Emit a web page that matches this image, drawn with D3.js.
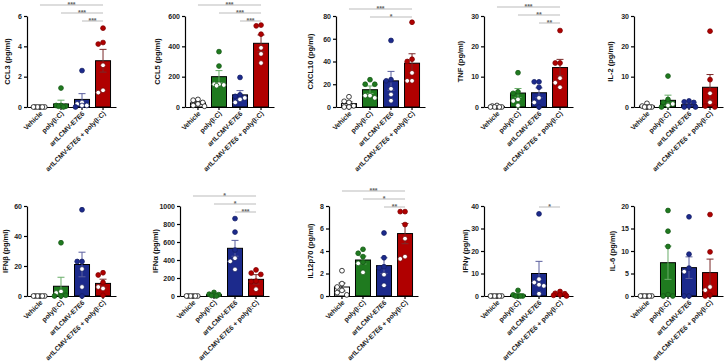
<!DOCTYPE html>
<html>
<head>
<meta charset="utf-8">
<script src="https://cdn.jsdelivr.net/npm/d3@7"></script>
<style>
  body { margin: 0; background: #fff; }
  text { font-family: "Liberation Sans", Arial, sans-serif; font-weight: bold; }
</style>
</head>
<body>
<script>
// groups (x categories)
var groups = ["Vehicle", "poly(I:C)", "artLCMV-E7E6", "artLCMV-E7E6 + poly(I:C)"];
var groupColors = ["#ffffff", "#1f7a1f", "#1c2a8c", "#b00000"];
var errColors = ["#222222", "#6aae6a", "#5a5f9e", "#7a2a2a"];

// CCL3
var ccl3Points = [[0, 0, 0, 0, 0, 0], [1.25, 0.1, 0.05, 0.1, 0, 0.05], [2.4, 0.3, 0.2, 0.1, 0.1, 0], [5.2, 4.25, 4.15, 2.75, 1.1, 0.95]];
var ccl3Mean = [0, 0.2, 0.5, 3.05];
var ccl3Sem = [0, 0.25, 0.38, 0.75];
var ccl3Ticks = [0, 2, 4, 6];
var ccl3Stars = [[0, 3, "***"], [1, 3, "***"], [2, 3, "***"]];

// CCL5
var ccl5Points = [[50, 45, 30, 20, 10, 5], [365, 270, 150, 150, 145, 140], [195, 80, 70, 60, 50, 30], [540, 535, 480, 390, 350, 290]];
var ccl5Mean = [27, 200, 80, 420];
var ccl5Sem = [8, 40, 28, 55];
var ccl5Ticks = [0, 200, 400, 600];
var ccl5Stars = [[0, 3, "***"], [1, 3, "***"], [2, 3, "***"]];

// CXCL10
var cxcl10Points = [[9, 5, 4, 1, 0, 0], [24, 20, 20, 10, 10, 8], [58.5, 24, 23, 16, 11, 5.5], [74.5, 42, 40, 30, 23, 23]];
var cxcl10Mean = [3, 15.2, 23, 38.5];
var cxcl10Sem = [1.5, 3.3, 8.3, 8.3];
var cxcl10Ticks = [0, 20, 40, 60, 80];
var cxcl10Stars = [[0, 3, "***"], [1, 3, "*"]];

// TNF
var tnfPoints = [[0.5, 0.3, 0, 0, 0, 0], [11.3, 5, 4.5, 2.5, 2, 0.5], [8.3, 8.3, 6.5, 3, 1.5, 0], [25.2, 14.5, 14.5, 9.5, 8, 6.5]];
var tnfMean = [0.1, 4.6, 4.7, 13];
var tnfSem = [0.1, 1.5, 1.6, 2.7];
var tnfTicks = [0, 10, 20, 30];
var tnfStars = [[0, 3, "***"], [1, 3, "**"], [2, 3, "**"]];

// IL-2
var il2Points = [[1.2, 0.3, 0, 0, 0, 0], [10.2, 2.5, 1.5, 1, 0.5, 0], [2, 1.7, 1.5, 0.3, 0, 0], [25, 9, 4.5, 1.5, 0.3, 0]];
var il2Mean = [0.3, 2.2, 0.75, 6.5];
var il2Sem = [0.2, 1.7, 0.4, 4.2];
var il2Ticks = [0, 10, 20, 30];
var il2Stars = [];

// IFNb
var ifnbPoints = [[0, 0, 0, 0, 0, 0], [35.5, 3, 2, 0.5, 0, 0], [57.5, 23, 23, 18, 6, 0], [15.5, 14, 9, 6, 5, 0.5]];
var ifnbMean = [0, 6.5, 21, 8.4];
var ifnbSem = [0, 6, 8.2, 2.8];
var ifnbTicks = [0, 20, 40, 60];
var ifnbStars = [];

// IFNa
var ifnaPoints = [[0, 0, 0, 0, 0, 0], [40, 20, 15, 10, 5, 0], [860, 710, 510, 420, 385, 295], [290, 255, 240, 165, 160, 75]];
var ifnaMean = [0, 15, 530, 185];
var ifnaSem = [0, 6, 88, 52];
var ifnaTicks = [0, 200, 400, 600, 800, 1000];
var ifnaStars = [[0, 3, "*"], [1, 3, "*"], [2, 3, "***"]];

// IL12p70
var il12Points = [[2.25, 1.1, 0.8, 0.5, 0.3, 0.1], [4.15, 3.8, 3.5, 3.0, 2.9, 2.1], [5.6, 3.4, 2.6, 2.5, 1.9, 0.95], [7.5, 7.5, 6.35, 5.1, 3.5, 3.3]];
var il12Mean = [0.8, 3.2, 2.7, 5.55];
var il12Sem = [0.35, 0.35, 0.7, 0.9];
var il12Ticks = [0, 2, 4, 6, 8];
var il12Stars = [[0, 3, "***"], [1, 3, "*"], [2, 3, "**"]];

// IFNg
var ifngPoints = [[0, 0, 0, 0, 0, 0], [2.5, 0.5, 0, 0, 0, 0], [36.5, 7.5, 6, 5, 4.5, 1], [2, 1.2, 1, 0.5, 0.3, 0]];
var ifngMean = [0, 0.4, 10, 0.9];
var ifngSem = [0, 0.4, 5.4, 0.3];
var ifngTicks = [0, 10, 20, 30, 40];
var ifngStars = [[2, 3, "*"]];

// IL-6
var il6Points = [[0, 0, 0, 0, 0, 0], [19, 14.4, 11, 0.3, 0, 0], [17.6, 9.3, 6.2, 5.4, 0, 0], [18.1, 9.8, 2, 1.3, 0.2, 0]];
var il6Mean = [0, 7.4, 6.3, 5.2];
var il6Sem = [0, 3.7, 2.4, 3];
var il6Ticks = [0, 5, 10, 15, 20];
var il6Stars = [];

var panels = [
    {title: "CCL3 (pg/ml)", points: ccl3Points, mean: ccl3Mean, sem: ccl3Sem, ticks: ccl3Ticks, stars: ccl3Stars},
    {title: "CCL5 (pg/ml)", points: ccl5Points, mean: ccl5Mean, sem: ccl5Sem, ticks: ccl5Ticks, stars: ccl5Stars},
    {title: "CXCL10 (pg/ml)", points: cxcl10Points, mean: cxcl10Mean, sem: cxcl10Sem, ticks: cxcl10Ticks, stars: cxcl10Stars},
    {title: "TNF (pg/ml)", points: tnfPoints, mean: tnfMean, sem: tnfSem, ticks: tnfTicks, stars: tnfStars},
    {title: "IL-2 (pg/ml)", points: il2Points, mean: il2Mean, sem: il2Sem, ticks: il2Ticks, stars: il2Stars},
    {title: "IFNβ (pg/ml)", points: ifnbPoints, mean: ifnbMean, sem: ifnbSem, ticks: ifnbTicks, stars: ifnbStars},
    {title: "IFNα (pg/ml)", points: ifnaPoints, mean: ifnaMean, sem: ifnaSem, ticks: ifnaTicks, stars: ifnaStars},
    {title: "IL12p70 (pg/ml)", points: il12Points, mean: il12Mean, sem: il12Sem, ticks: il12Ticks, stars: il12Stars},
    {title: "IFNγ (pg/ml)", points: ifngPoints, mean: ifngMean, sem: ifngSem, ticks: ifngTicks, stars: ifngStars},
    {title: "IL-6 (pg/ml)", points: il6Points, mean: il6Mean, sem: il6Sem, ticks: il6Ticks, stars: il6Stars}
];

// panel placement (y axis x position, row, title offset, first bracket y)
var layout = [
    {x: 27, row: 0, titleDx: -20, br: 5},
    {x: 185, row: 0, titleDx: -28, br: 5},
    {x: 336, row: 0, titleDx: -26, br: 9},
    {x: 484, row: 0, titleDx: -24, br: 7},
    {x: 634, row: 0, titleDx: -24, br: 0},
    {x: 27, row: 1, titleDx: -22, br: 0},
    {x: 180, row: 1, titleDx: -25, br: 196},
    {x: 329, row: 1, titleDx: -19, br: 191},
    {x: 484, row: 1, titleDx: -19, br: 207},
    {x: 634, row: 1, titleDx: -22, br: 0}
];
var rows = [{top: 16, bottom: 107}, {top: 206, bottom: 296}];
var plotW = 89, r = 2.4;

var svg = d3.select("body").append("svg")
    .attr("width", 725)
    .attr("height", 363);

panels.forEach(function(p, i) {
    var lay = layout[i];
    var row = rows[lay.row];
    var g = svg.append("g").attr("transform", "translate(" + lay.x + ",0)");

    var xScale = d3.scaleBand()
        .domain(groups)
        .range([0, plotW])
        .paddingInner(0.286)
        .paddingOuter(0.26);

    var yScale = d3.scaleLinear()
        .domain([0, d3.max(p.ticks)])
        .range([row.bottom, row.top]);

    var bw = xScale.bandwidth();

    // bars
    g.selectAll("rect.bar")
        .data(groups)
        .enter()
        .append("rect")
        .attr("class", "bar")
        .attr("x", function(d) { return xScale(d); })
        .attr("y", function(d, j) { return yScale(p.mean[j]); })
        .attr("width", bw)
        .attr("height", function(d, j) { return yScale(0) - yScale(p.mean[j]); })
        .attr("fill", function(d, j) { return groupColors[j]; })
        .attr("stroke", "#000")
        .attr("stroke-width", 1);

    // error bars (mean +/- SEM)
    groups.forEach(function(gr, j) {
        if (p.sem[j] <= 0) return;
        var cx = xScale(gr) + bw / 2;
        var y1 = yScale(Math.max(0, p.mean[j] - p.sem[j]));
        var y2 = yScale(p.mean[j] + p.sem[j]);
        var eg = g.append("g").attr("stroke", errColors[j]).attr("stroke-width", 1);
        eg.append("line").attr("x1", cx).attr("x2", cx).attr("y1", y1).attr("y2", y2);
        eg.append("line").attr("x1", cx - 3.5).attr("x2", cx + 3.5).attr("y1", y2).attr("y2", y2);
        eg.append("line").attr("x1", cx - 3.5).attr("x2", cx + 3.5).attr("y1", y1).attr("y2", y1);
    });

    // axes
    var yAxis = d3.axisLeft(yScale).tickValues(p.ticks).tickSize(3).tickSizeOuter(0).tickPadding(2)
        .tickFormat(d3.format("d"));
    var xAxis = d3.axisBottom(xScale).tickSize(3).tickSizeOuter(0).tickFormat("");

    var ya = g.append("g").call(yAxis);
    ya.selectAll("text").attr("font-size", 7).attr("fill", "#222");
    ya.selectAll("line, path").attr("stroke", "#000").attr("stroke-width", 1.2);

    var xa = g.append("g").attr("transform", "translate(0," + row.bottom + ")").call(xAxis);
    xa.selectAll("line, path").attr("stroke", "#000").attr("stroke-width", 1.2);

    // rotated group labels
    g.selectAll("text.xlab")
        .data(groups)
        .enter()
        .append("text")
        .attr("class", "xlab")
        .attr("transform", function(d) {
            return "translate(" + (xScale(d) + bw / 2 + 3) + "," + (row.bottom + 7) + ") rotate(-45)";
        })
        .attr("text-anchor", "end")
        .attr("font-size", 6.8)
        .attr("fill", "#222")
        .text(function(d) { return d; });

    // y title
    g.append("text")
        .attr("transform", "translate(" + (lay.titleDx + 3) + "," + ((row.top + row.bottom) / 2) + ") rotate(-90)")
        .attr("text-anchor", "middle")
        .attr("font-size", 7.5)
        .attr("fill", "#111")
        .text(p.title);

    // points: simple column scatter
    groups.forEach(function(gr, j) {
        var cx = xScale(gr) + bw / 2;
        var vals = p.points[j].slice().sort(function(a, b) { return b - a; });
        var placed = [];
        var cands = [0, -4.8, 4.8, -2.4, 2.4, -6.5, 6.5];
        vals.forEach(function(v) {
            var py = yScale(v);
            var best = 0, bestD = -1;
            for (var k = 0; k < cands.length; k++) {
                var minD = Infinity;
                placed.forEach(function(q) {
                    var dd = Math.hypot(q.x - cands[k], q.y - py);
                    if (dd < minD) minD = dd;
                });
                if (minD >= 2 * r) { best = cands[k]; bestD = Infinity; break; }
                if (minD > bestD) { bestD = minD; best = cands[k]; }
            }
            placed.push({x: best, y: py, v: v});
        });
        var barTop = yScale(p.mean[j]);
        var base = d3.color(groupColors[j]);
        g.selectAll(null)
            .data(placed)
            .enter()
            .append("circle")
            .attr("cx", function(d) { return cx + d.x; })
            .attr("cy", function(d) { return d.y; })
            .attr("r", r)
            .attr("fill", function(d) {
                if (j === 0) return "#fff";
                var inside = d.y > barTop + r && d.y < yScale(0) - r * 0.6;
                return inside ? "#fff" : groupColors[j];
            })
            .attr("stroke", j === 0 ? "#111" : base.darker(0.9).formatHex())
            .attr("stroke-width", 0.8);
    });

    // significance brackets
    p.stars.forEach(function(s, k) {
        var ly = lay.br + k * 8;
        var xa1 = xScale(groups[s[0]]) + bw / 2;
        var xa2 = xScale(groups[s[1]]) + bw / 2;
        g.append("line")
            .attr("x1", xa1).attr("x2", xa2)
            .attr("y1", ly).attr("y2", ly)
            .attr("stroke", "#aaa")
            .attr("stroke-width", 0.8);
        g.append("text")
            .attr("x", (xa1 + xa2) / 2)
            .attr("y", ly + 1.5)
            .attr("text-anchor", "middle")
            .attr("font-size", 7)
            .attr("fill", "#666")
            .text(s[2]);
    });
});
</script>
</body>
</html>
